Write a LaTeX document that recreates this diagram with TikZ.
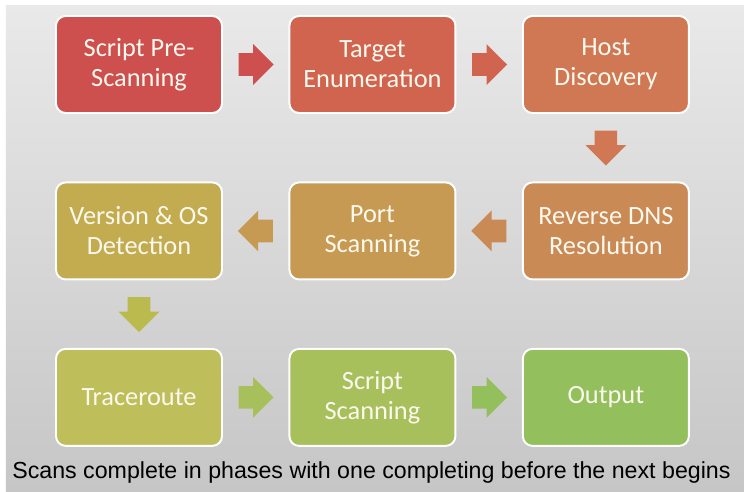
\documentclass[tikz,border=0pt]{standalone}
\usepackage{fontspec}
\setmainfont{Carlito}
\newfontfamily\capfont{Liberation Sans}
\usetikzlibrary{positioning,calc,shapes.arrows}

\definecolor{bgtop}{HTML}{E9E9E9}
\definecolor{bgbot}{HTML}{C6C6C6}
\definecolor{txt}{HTML}{FBF8EE}
\definecolor{ca}{HTML}{CD4F4E}
\definecolor{cb}{HTML}{D1644F}
\definecolor{cc}{HTML}{CF7853}
\definecolor{cd}{HTML}{C98A55}
\definecolor{ce}{HTML}{C69A52}
\definecolor{cf}{HTML}{C3AB50}
\definecolor{cfg}{HTML}{BBBA4E}
\definecolor{cg}{HTML}{BEBF5B}
\definecolor{ch}{HTML}{A8C05C}
\definecolor{ci}{HTML}{93BF5C}

\begin{document}
\begin{tikzpicture}[node distance=1.35cm and 1.31cm,
        phase/.style={draw=white,line width=1.1pt,rounded corners=5.5pt,
            minimum width=3.32cm,minimum height=1.94cm,inner sep=2pt,
            align=center,text=txt,font=\fontsize{15}{17}\selectfont},
        hflow/.style={single arrow,single arrow head extend=0.18cm,anchor=tail,
            inner xsep=0pt,inner ysep=0.22cm,minimum height=0.7cm},
        vflow/.style={hflow,inner xsep=0.22cm,inner ysep=0pt}]
    \useasboundingbox (0,0) rectangle (14.88,-9.84);
    \fill[white] (0,0) rectangle (14.88,-9.84);
    \shade[top color=bgtop,bottom color=bgbot] (0.12,-0.1) rectangle (14.88,-9.84);

    % first row
    \node[phase,fill=ca] (pre) at (2.78,-1.29) {Script Pre-\\Scanning};
    \node[phase,fill=cb,right=of pre] (enum) {Target\\Enumeration};
    \node[phase,fill=cc,right=of enum] (disc) {Host\\Discovery};
    % second row, right to left
    \node[phase,fill=cd,below=of disc] (rdns) {Reverse DNS\\Resolution};
    \node[phase,fill=ce,left=of rdns] (port) {Port\\Scanning};
    \node[phase,fill=cf,left=of port] (vers) {Version \& OS\\Detection};
    % third row
    \node[phase,fill=cg,below=of vers] (trace) {Traceroute};
    \node[phase,fill=ch,right=of trace] (sscan) {Script\\Scanning};
    \node[phase,fill=ci,right=of sscan] (out) {Output};

    % block arrows between phases
    \foreach \a/\b/\ang/\sty/\col in {pre/enum/0/hflow/ca,enum/disc/0/hflow/cb,
            disc/rdns/270/vflow/cc,rdns/port/180/hflow/cd,port/vers/180/hflow/ce,
            vers/trace/270/vflow/cfg,trace/sscan/0/hflow/ch,sscan/out/0/hflow/ci}
        \node[\sty,fill=\col,shape border rotate=\ang] (\a-\b)
            at ($($(\a)!0.5!(\b)$)!0.35cm!180:(\b)$) {};

    \node[anchor=west,inner sep=0pt,font=\capfont\fontsize{13.2}{15}\selectfont]
        (note) at (0.24,-9.45) {Scans complete in phases with one completing before the next begins};
\end{tikzpicture}
\end{document}
